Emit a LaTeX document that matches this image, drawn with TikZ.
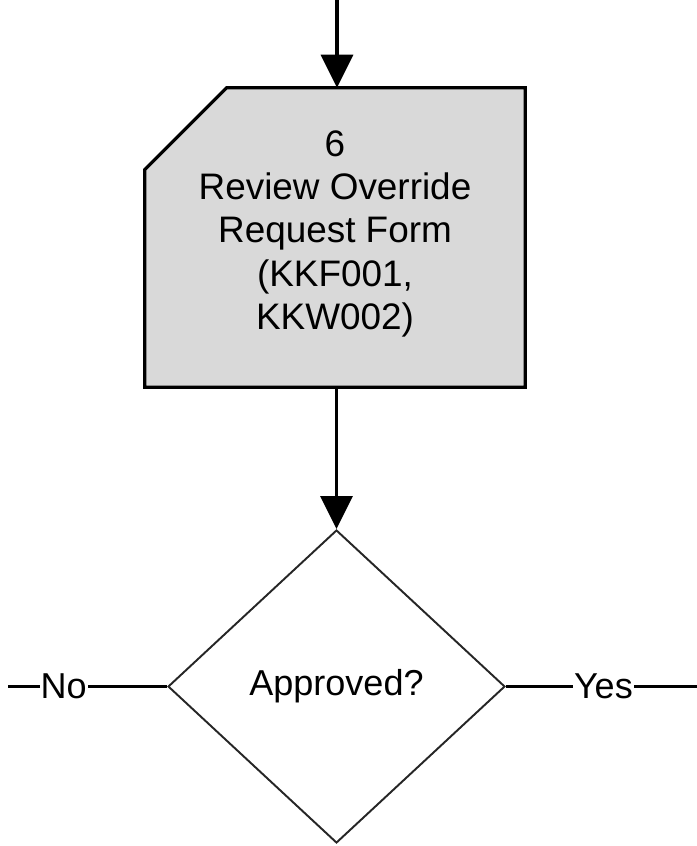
\documentclass[tikz,border=0pt]{standalone}
\usepackage{fontspec}
\setmainfont{Liberation Sans}
\usetikzlibrary{shapes.geometric, arrows.meta, positioning, calc, backgrounds}
\tikzset{
  paso/.style={rectangle, minimum width=7.6cm, minimum height=5.98cm, align=center, inner sep=0pt, font=\fontsize{21}{24.6}\selectfont},
  decision/.style={diamond, draw=black!85, line width=1.1pt, minimum width=6.74cm, minimum height=6.26cm, inner sep=0pt, font=\fontsize{20.5}{24}\selectfont},
  flecha/.style={line width=1.8pt, -{Triangle[length=0.66cm, width=0.64cm]}},
  rama/.style={line width=1.6pt},
  etiq/.style={fill=white, inner sep=0.5pt, font=\fontsize{20.5}{24}\selectfont}
}
\begin{document}
\begin{tikzpicture}[x=0.02cm, y=-0.02cm]
  \useasboundingbox (0,0) rectangle (697,846);
  % paso 6
  \coordinate (entrada) at (337,0);
  \node (revision) [paso] at (335,237.5) {6\\Review Override\\Request Form\\(KKF001,\\KKW002)\\[-16pt]\mbox{}};
  \begin{scope}[on background layer]
    \filldraw [fill=black!15, line width=1.8pt] ($(revision.north west)+(82,0)$) -- (revision.north east) -- (revision.south east) -- (revision.south west) -- ($(revision.north west)+(0,82)$) -- cycle;
  \end{scope}
  % decision
  \node (aprobado) [decision] at (336.5,686.5) {Approved?};
  \coordinate (finno) at (8,686.5);
  \coordinate (finsi) at (697,686.5);
  \draw [flecha] (entrada) -- (entrada |- revision.north);
  \draw [flecha] (revision.south -| aprobado.north) -- (aprobado.north);
  \draw [rama] (aprobado.west) -- (finno) node[etiq, pos=0.65] {No};
  \draw [rama] (aprobado.east) -- (finsi) node[etiq, pos=0.51] {Yes};
\end{tikzpicture}
\end{document}
